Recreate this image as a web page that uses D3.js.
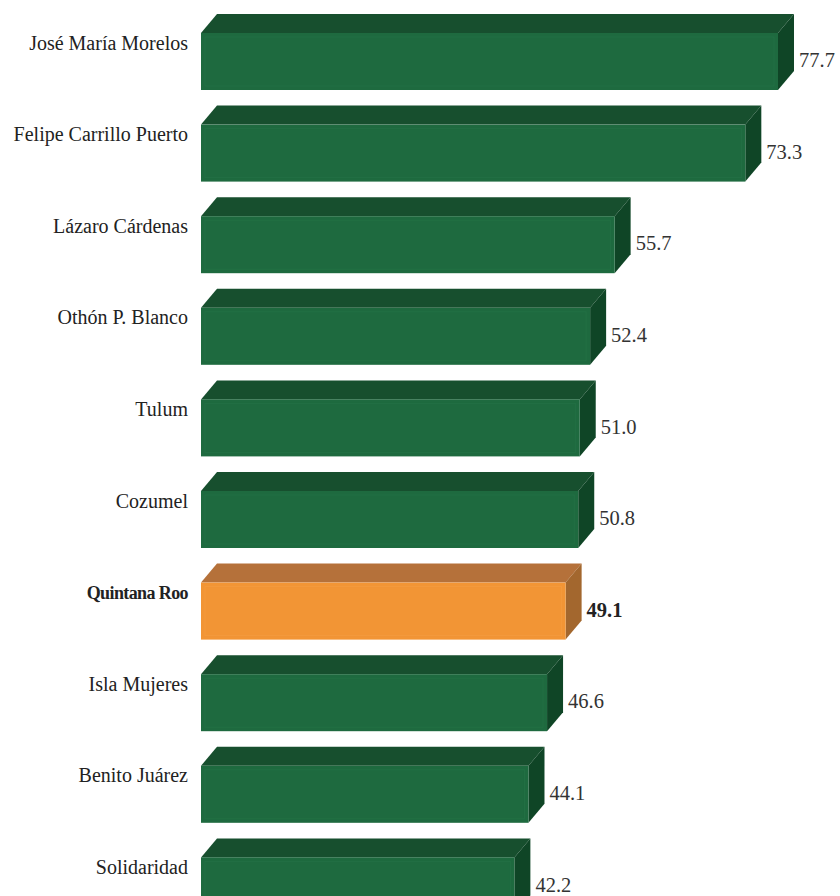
<!DOCTYPE html>
<html>
<head>
<meta charset="utf-8">
<script src="https://cdn.jsdelivr.net/npm/d3@7"></script>
<style>
  html, body { margin: 0; padding: 0; background: #ffffff; }
  svg { display: block; }
  .cat { font-family: "Liberation Serif", "Times New Roman", Times, serif; }
  .val { font-family: "Liberation Serif", "Times New Roman", Times, serif; }
</style>
</head>
<body>
<script>
const categories = ["José María Morelos", "Felipe Carrillo Puerto", "Lázaro Cárdenas", "Othón P. Blanco", "Tulum", "Cozumel", "Quintana Roo", "Isla Mujeres", "Benito Juárez", "Solidaridad"];
const values = [77.7, 73.3, 55.7, 52.4, 51.0, 50.8, 49.1, 46.6, 44.1, 42.2];
const highlight = "Quintana Roo";

const W = 840, H = 896;
const svg = d3.select("body").append("svg").attr("width", W).attr("height", H);

const x = d3.scaleLinear().domain([0, 77.7]).range([201, 778]);
const y = d3.scaleBand().domain(categories).range([14, 14 + 91.6 * categories.length]).paddingInner(0).paddingOuter(0);

const depthX = 16, depthY = 19, frontH = 57;

const colors = {
  normal: { front: "#1e6a3f", top: "#174f2e", side: "#0f4526", edge: "#2a7a4c" },
  hi: { front: "#f29535", top: "#b5713a", side: "#a3672e", edge: "#f6a44e" }
};

const data = categories.map((c, i) => ({ name: c, value: values[i] }));

const g = svg.selectAll("g.bar").data(data).join("g").attr("class", "bar");

g.each(function(d) {
  const sel = d3.select(this);
  const isHi = d.name === highlight;
  const col = isHi ? colors.hi : colors.normal;
  const x0 = x(0), x1 = x(d.value);
  const t = y(d.name);
  const ft = t + depthY;
  const fb = ft + frontH;
  sel.append("path")
    .attr("d", `M${x0},${ft} L${x0 + depthX},${t} L${x1 + depthX},${t} L${x1},${ft} Z`)
    .attr("fill", col.top);
  sel.append("path")
    .attr("d", `M${x1},${ft} L${x1 + depthX},${t} L${x1 + depthX},${fb - depthY} L${x1},${fb} Z`)
    .attr("fill", col.side);
  sel.append("rect")
    .attr("x", x0).attr("y", ft)
    .attr("width", x1 - x0).attr("height", frontH)
    .attr("fill", col.front);
  sel.append("rect")
    .attr("x", x0 + 4).attr("y", ft + 4)
    .attr("width", Math.max(0, x1 - x0 - 8)).attr("height", frontH - 8)
    .attr("fill", "none")
    .attr("stroke", col.edge).attr("stroke-opacity", 0.35).attr("stroke-width", 1);

  sel.append("text")
    .attr("class", "cat")
    .attr("x", 188).attr("y", t + 31)
    .attr("text-anchor", "end")
    .attr("dominant-baseline", "middle")
    .attr("font-size", isHi ? 18 : 20)
    .attr("letter-spacing", isHi ? -0.6 : 0)
    .attr("font-weight", isHi ? "bold" : "normal")
    .attr("fill", "#222")
    .text(d.name);

  sel.append("text")
    .attr("class", "val")
    .attr("x", x1 + 21).attr("y", ft + 29.5)
    .attr("text-anchor", "start")
    .attr("dominant-baseline", "middle")
    .attr("font-size", 20.5)
    .attr("font-weight", isHi ? "bold" : "normal")
    .attr("fill", isHi ? "#222" : "#333")
    .text(d3.format(".1f")(d.value));
});
</script>
</body>
</html>
